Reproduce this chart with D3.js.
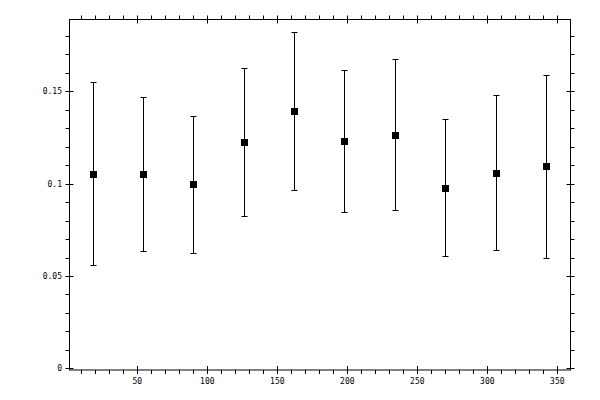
<!DOCTYPE html>
<html>
<head>
<meta charset="utf-8">
<script src="https://cdn.jsdelivr.net/npm/d3@7"></script>
<style>
  body { margin: 0; background: #fff; }
  svg { display: block; }
  text { font-family: 'DejaVu Sans Mono', monospace; font-size: 8px; fill: #000; }
</style>
</head>
<body>
<div id="chart"></div>
<script>
// bin centres (degrees) and measured mean with lower / upper limits
const xValues = [18, 54, 90, 126, 162, 198, 234, 270, 306, 342];
const yValues = [0.1054, 0.1054, 0.0996, 0.1228, 0.1395, 0.1233, 0.1265, 0.0978, 0.1060, 0.1098];
const yLow = [0.0561, 0.0637, 0.0622, 0.0827, 0.0968, 0.0848, 0.0859, 0.0610, 0.0642, 0.0600];
const yHigh = [0.1549, 0.1471, 0.1368, 0.1626, 0.1821, 0.1618, 0.1675, 0.1352, 0.1482, 0.1590];
const xTickLabels = [50, 100, 150, 200, 250, 300, 350];
const yTickLabels = [0, 0.05, 0.1, 0.15];

const width = 600;
const height = 400;
const frame = { left: 69.5, right: 570.5, top: 19.5, bottom: 370 };

const x = d3.scaleLinear().domain([0, 350]).range([67.3, 557.3]);
const y = d3.scaleLinear().domain([0, 0.15]).range([368.3, 91.4]);

const svg = d3.select('#chart').append('svg')
  .attr('width', width)
  .attr('height', height);

// frame
svg.append('rect')
  .attr('x', frame.left)
  .attr('y', frame.top)
  .attr('width', frame.right - frame.left)
  .attr('height', frame.bottom - frame.top)
  .attr('fill', 'none')
  .attr('stroke', '#000')
  .attr('stroke-width', 1);

const xMinor = d3.range(10, 360, 10).filter(v => v % 50 !== 0);
const yMinor = d3.range(0.01, 0.185, 0.01).filter(v => Math.abs(v * 20 - Math.round(v * 20)) > 1e-6);

const ticks = svg.append('g').attr('stroke', '#000').attr('stroke-width', 1);

// bottom and top
ticks.selectAll('.xmaj').data(xTickLabels).enter().append('path')
  .attr('d', d => `M${Math.round(x(d)) + 0.5},${frame.bottom - 4}V${frame.bottom + 4}`
    + `M${Math.round(x(d)) + 0.5},${frame.top - 4}V${frame.top + 4}`);
ticks.selectAll('.xmin').data(xMinor).enter().append('path')
  .attr('d', d => `M${Math.round(x(d)) + 0.5},${frame.bottom}V${frame.bottom + 4}`
    + `M${Math.round(x(d)) + 0.5},${frame.top - 4}V${frame.top}`);

// left and right
ticks.selectAll('.ymaj').data(yTickLabels).enter().append('path')
  .attr('d', d => `M${frame.left - 4},${Math.round(y(d)) + 0.5}H${frame.left + 4}`
    + `M${frame.right - 4},${Math.round(y(d)) + 0.5}H${frame.right + 4}`);
ticks.selectAll('.ymin').data(yMinor).enter().append('path')
  .attr('d', d => `M${frame.left - 4},${Math.round(y(d)) + 0.5}H${frame.left}`
    + `M${frame.right},${Math.round(y(d)) + 0.5}H${frame.right + 4}`);

// tick labels
svg.selectAll('.xlab').data(xTickLabels).enter().append('text')
  .attr('x', d => x(d))
  .attr('y', 384)
  .attr('text-anchor', 'middle')
  .text(d => d);

svg.selectAll('.ylab').data(yTickLabels).enter().append('text')
  .attr('x', 62)
  .attr('y', d => y(d) + 3)
  .attr('text-anchor', 'end')
  .text(d => d);

// error bars
const pts = xValues.map((v, i) => ({ x: v, y: yValues[i], lo: yLow[i], hi: yHigh[i] }));
const bars = svg.append('g').attr('stroke', '#000').attr('stroke-width', 1).attr('fill', 'none');
bars.selectAll('path').data(pts).enter().append('path')
  .attr('d', (d) => {
    const cx = Math.round(x(d.x)) + 0.5;
    const top = Math.round(y(d.hi)) + 0.5;
    const bot = Math.round(y(d.lo)) + 0.5;
    return `M${cx},${top}V${bot}M${cx - 3},${top}H${cx + 3}M${cx - 3},${bot}H${cx + 3}`;
  });

svg.selectAll('.pt').data(pts).enter().append('rect')
  .attr('x', d => Math.round(x(d.x)) - 3)
  .attr('y', d => Math.round(y(d.y)) - 3)
  .attr('width', 7)
  .attr('height', 7)
  .attr('fill', '#000');
</script>
</body>
</html>
